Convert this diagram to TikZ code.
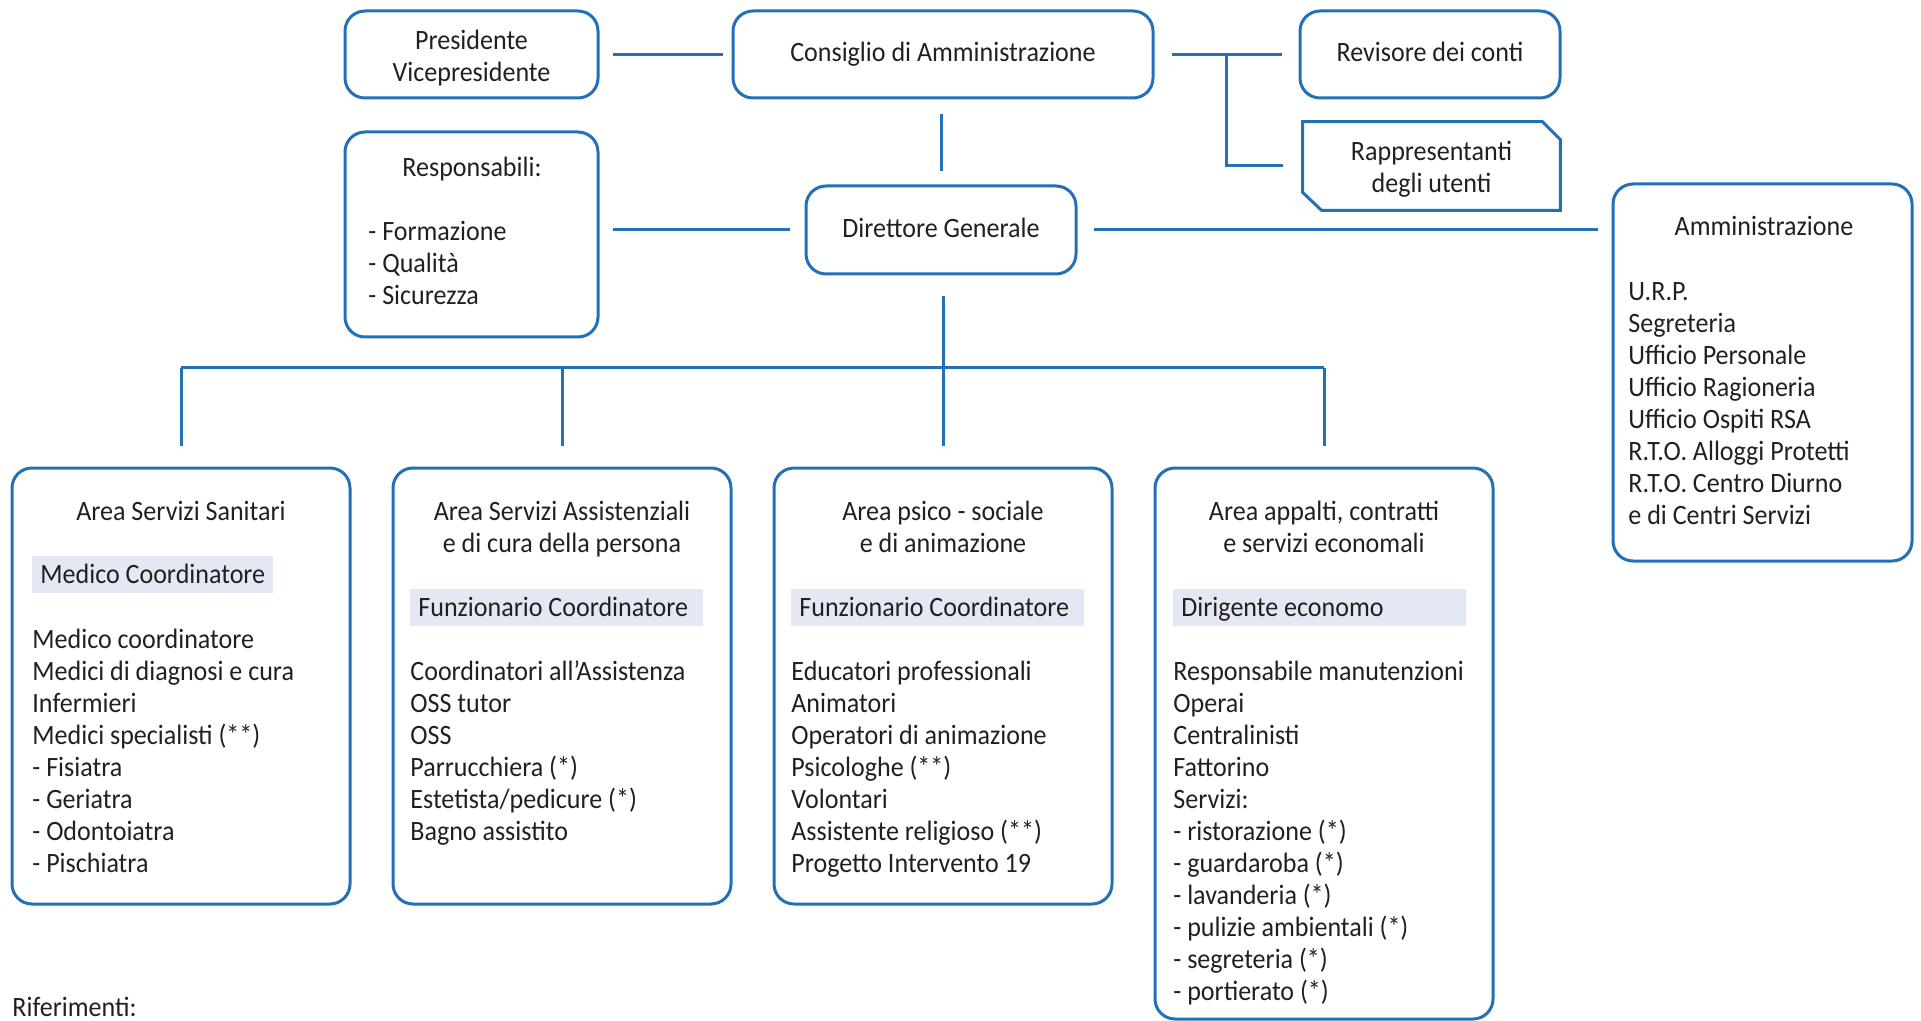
\documentclass[tikz,border=0pt]{standalone}
\usepackage{fontspec}
\setmainfont{Carlito}[FakeStretch=0.93]
\definecolor{bblue}{RGB}{35,112,182}
\definecolor{barfill}{RGB}{228,232,244}
\definecolor{tgray}{RGB}{35,31,32}
\newcommand\fst{\rule{0pt}{13pt}}
\begin{document}
\begin{tikzpicture}[x=0.5pt,y=-0.5pt,
  box/.style={draw=bblue,line width=1.5pt,rounded corners=10pt,inner sep=0pt},
  conn/.style={draw=bblue,line width=1.5pt},
  txt/.style={font=\fontsize{14}{16}\selectfont,text=tgray,inner sep=0pt},
  ctxt/.style={txt,align=center,anchor=north},
  ltxt/.style={txt,align=left,anchor=north west},
  bar/.style={fill=barfill,anchor=north west,inner sep=0pt,minimum height=18.5pt}]
\useasboundingbox (0,0) rectangle (1921,1021);
% boxes
\node[box,minimum width=126.5pt,minimum height=43.5pt] (pres) at (471.5,54.5) {};
\node[box,minimum width=210pt,minimum height=43.5pt] (cda) at (943,54.5) {};
\node[box,minimum width=130pt,minimum height=43.5pt] (rev) at (1430,54.5) {};
\node[minimum width=128.5pt,minimum height=44pt,inner sep=0pt] (rap) at (1431.5,166) {};
\draw[bblue,line width=1.5pt] (rap.north west) -- ([xshift=-9pt]rap.north east) -- ([yshift=-9pt]rap.north east)
  -- (rap.south east) -- ([xshift=9.5pt]rap.south west) -- ([yshift=9pt]rap.south west) -- cycle;
\node[box,minimum width=126.5pt,minimum height=102.5pt] (resp) at (471.5,234.5) {};
\node[box,minimum width=135pt,minimum height=44pt] (dir) at (941,230) {};
\node[box,minimum width=149.5pt,minimum height=188.5pt] (amm) at (1762.5,372.5) {};
\node[box,minimum width=169pt,minimum height=218pt] (b1) at (181,686) {};
\node[box,minimum width=169pt,minimum height=218pt] (b2) at (562,686) {};
\node[box,minimum width=169pt,minimum height=218pt] (b3) at (943,686) {};
\node[box,minimum width=169pt,minimum height=275.5pt] (b4) at (1324,743.5) {};
% texts top
\node[ctxt] (tpres) at (471.5,23) {\fst Presidente\\Vicepresidente};
\node[txt,anchor=base] (tcda) at (943,62) {Consiglio di Amministrazione};
\node[txt,anchor=base] (trev) at (1430,62) {Revisore dei conti};
\node[ctxt] (trap) at (1431.5,134) {\fst Rappresentanti\\degli utenti};
\node[txt,anchor=base] (tresp) at (472,177) {Responsabili:};
\node[ltxt] (lresp) at (368,214) {\fst - Formazione\\- Qualità\\- Sicurezza};
\node[txt,anchor=base] (tdir) at (941,238) {Direttore Generale};
\node[txt,anchor=base] (tamm) at (1764,236) {Amministrazione};
\node[ltxt] (lamm) at (1628,274) {\fst U.R.P.\\Segreteria\\Ufficio Personale\\Ufficio Ragioneria\\Ufficio Ospiti RSA\\R.T.O. Alloggi Protetti\\R.T.O. Centro Diurno\\e di Centri Servizi};
% area boxes
\node[ctxt] (t1) at (181,494) {\fst Area Servizi Sanitari};
\node[bar,minimum width=120.5pt] (bar1) at (32,556) {};
\node[txt,anchor=base west] (bt1) at (40,583) {Medico Coordinatore};
\node[ltxt] (l1) at (32,622) {\fst Medico coordinatore\\Medici di diagnosi e cura\\Infermieri\\Medici specialisti (**)\\- Fisiatra\\- Geriatra\\- Odontoiatra\\- Pischiatra};
\node[ctxt] (t2) at (562,494) {\fst Area Servizi Assistenziali\\e di cura della persona};
\node[bar,minimum width=146.5pt] (bar2) at (410,589) {};
\node[txt,anchor=base west] (bt2) at (418,616) {Funzionario Coordinatore};
\node[ltxt] (l2) at (410,654) {\fst Coordinatori all’Assistenza\\OSS tutor\\OSS\\Parrucchiera (*)\\Estetista/pedicure (*)\\Bagno assistito};
\node[ctxt] (t3) at (943,494) {\fst Area psico - sociale\\e di animazione};
\node[bar,minimum width=146.5pt] (bar3) at (791,589) {};
\node[txt,anchor=base west] (bt3) at (799,616) {Funzionario Coordinatore};
\node[ltxt] (l3) at (791,654) {\fst Educatori professionali\\Animatori\\Operatori di animazione\\Psicologhe (**)\\Volontari\\Assistente religioso (**)\\Progetto Intervento 19};
\node[ctxt] (t4) at (1324,494) {\fst Area appalti, contratti\\e servizi economali};
\node[bar,minimum width=146.5pt] (bar4) at (1173,589) {};
\node[txt,anchor=base west] (bt4) at (1181,616) {Dirigente economo};
\node[ltxt] (l4) at (1173,654) {\fst Responsabile manutenzioni\\Operai\\Centralinisti\\Fattorino\\Servizi:\\- ristorazione (*)\\- guardaroba (*)\\- lavanderia (*)\\- pulizie ambientali (*)\\- segreteria (*)\\- portierato (*)};
\node[txt,anchor=base west] (rif) at (12,1016) {Riferimenti:};
% connectors
\draw[conn,shorten <=6.5pt,shorten >=4.5pt] (pres) -- (cda);
\draw[conn,shorten <=8.5pt,shorten >=8.5pt] (cda) -- (rev);
\coordinate (j1) at (1226,54.5);
\draw[conn] (j1) |- ([xshift=-10pt]rap.west);
\draw[conn] ([yshift=-7.5pt]dir.north |- cda.south) -- ([yshift=6.5pt]dir.north);
\draw[conn,shorten <=6.5pt,shorten >=7.5pt] (resp.east |- dir.west) -- (dir.west);
\draw[conn,shorten <=8pt,shorten >=7pt] (dir.east) -- (dir.east -| amm.west);
\coordinate (bus) at (0,368);
\draw[conn] ([yshift=-10.5pt]b3.north |- dir.south) -- ([yshift=10.5pt]b3.north);
\draw[conn] (b1.north |- bus) -- (b4.north |- bus);
\foreach \b in {b1,b2,b4} \draw[conn] (\b.north |- bus) -- ([yshift=10.5pt]\b.north);
\end{tikzpicture}
\end{document}
